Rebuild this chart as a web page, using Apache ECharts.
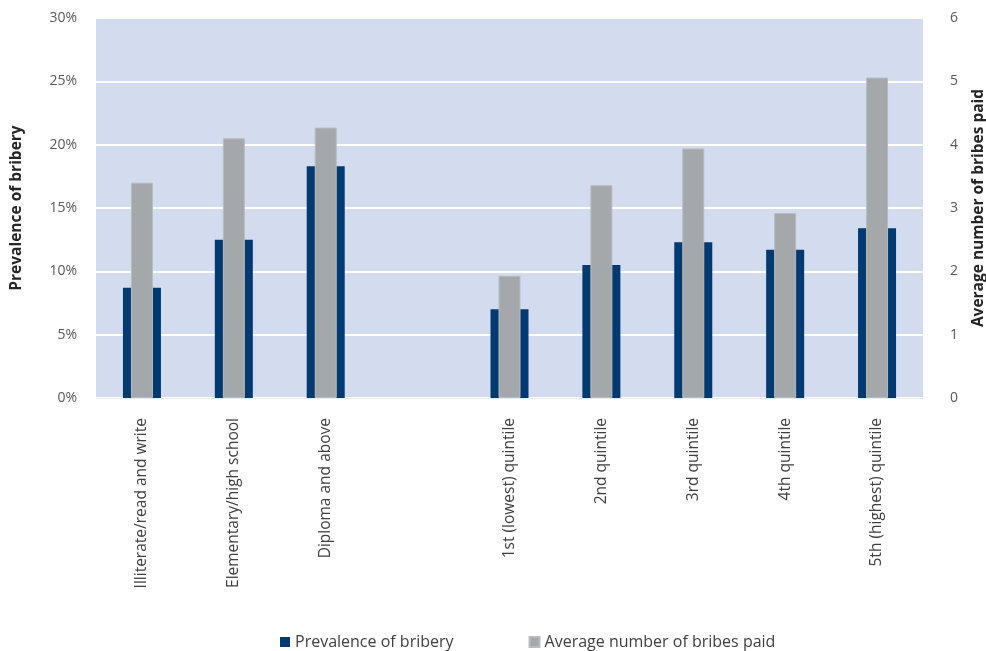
<!DOCTYPE html>
<html><head><meta charset="utf-8">
<script src="https://cdn.jsdelivr.net/npm/echarts@6/dist/echarts.min.js"></script>
<style>html,body{margin:0;padding:0;background:#fff}#c{width:986px;height:651px}</style>
</head><body><div id="c"></div>
<script>
var categories = ['Illiterate/read and write','Elementary/high school','Diploma and above','','1st (lowest) quintile','2nd quintile','3rd quintile','4th quintile','5th (highest) quintile'];
var prevalence = [8.7, 12.5, 18.3, null, 7.0, 10.5, 12.3, 11.7, 13.4];
var avgBribes = [3.4, 4.1, 4.27, null, 1.93, 3.36, 3.94, 2.92, 5.06];
var leftTicks = {min: 0, max: 30, interval: 5};
var rightTicks = {min: 0, max: 6, interval: 1};

var chart = echarts.init(document.getElementById('c'));
var tickFont = {color: '#595959', fontSize: 14, fontFamily: 'Open Sans'};
chart.setOption({
  animation: false,
  grid: {left: 96, right: 63, top: 18, bottom: 253, show: true, backgroundColor: '#D3DCEE', borderWidth: 0,
         containLabel: false, outerBoundsMode: 'none'},
  legend: {
    left: 275, top: 629, itemWidth: 10, itemHeight: 10, itemGap: 75,
    icon: 'rect',
    textStyle: {color: '#404040', fontSize: 16, fontFamily: 'Liberation Sans Narrow, Open Sans'},
    data: ['Prevalence of bribery', 'Average number of bribes paid']
  },
  xAxis: [
    {type: 'category', data: categories, axisTick: {show: false},
     axisLine: {lineStyle: {color: '#E6EBF5'}},
     axisLabel: {rotate: 90, interval: 0, margin: 20, color: '#404040', fontSize: 15.5, fontFamily: 'Open Sans'}},
    {type: 'category', data: categories, show: false}
  ],
  yAxis: [
    {type: 'value', min: leftTicks.min, max: leftTicks.max, interval: leftTicks.interval,
     name: 'Prevalence of bribery', nameLocation: 'middle', nameRotate: 90, nameGap: 71,
     nameTextStyle: {fontWeight: 'bold', fontSize: 15.5, color: '#262626', fontFamily: 'Open Sans'},
     axisLabel: Object.assign({formatter: '{value}%', margin: 19}, tickFont),
     axisLine: {show: false}, axisTick: {show: false},
     splitLine: {lineStyle: {color: '#FFFFFF', width: 2}}},
    {type: 'value', min: rightTicks.min, max: rightTicks.max, interval: rightTicks.interval,
     name: 'Average number of bribes paid', nameLocation: 'middle', nameRotate: 90, nameGap: 48,
     nameTextStyle: {fontWeight: 'bold', fontSize: 15.5, color: '#262626', fontFamily: 'Open Sans'},
     axisLabel: Object.assign({margin: 27}, tickFont),
     axisLine: {show: false}, axisTick: {show: false}, splitLine: {show: false}}
  ],
  series: [
    {name: 'Prevalence of bribery', type: 'bar', xAxisIndex: 0, yAxisIndex: 0, barWidth: 38,
     data: prevalence, itemStyle: {color: '#003A70'}},
    {name: 'Average number of bribes paid', type: 'bar', xAxisIndex: 1, yAxisIndex: 1, barWidth: 22,
     data: avgBribes, itemStyle: {color: '#A5A8AB', borderColor: '#B8BBBE', borderWidth: 1}}
  ]
});
</script></body></html>
